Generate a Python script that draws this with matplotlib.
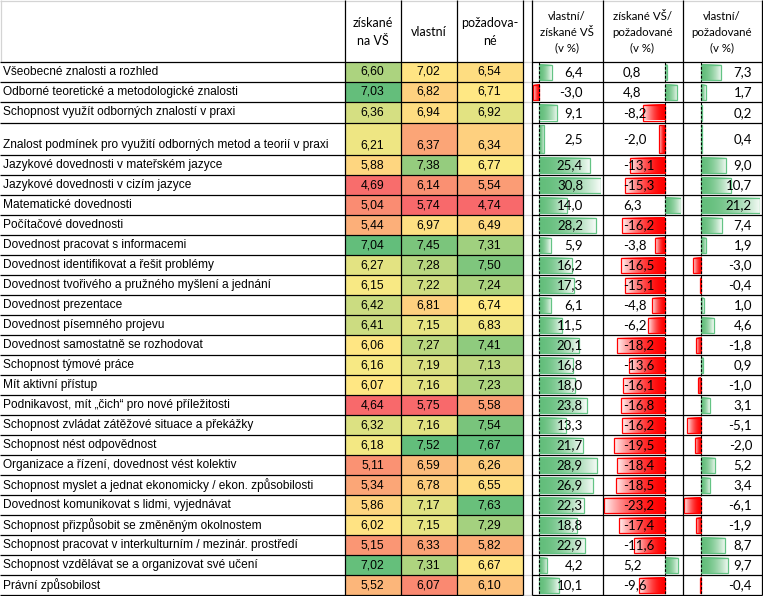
import numpy as np
import matplotlib.pyplot as plt
from matplotlib.colors import LinearSegmentedColormap, TwoSlopeNorm, to_rgb

labels = [
    'Všeobecné znalosti a rozhled',
    'Odborné teoretické a metodologické znalosti',
    'Schopnost využít odborných znalostí v praxi',
    'Znalost podmínek pro využití odborných metod a teorií v praxi',
    'Jazykové dovednosti v mateřském jazyce',
    'Jazykové dovednosti v cizím jazyce',
    'Matematické dovednosti',
    'Počítačové dovednosti',
    'Dovednost pracovat s informacemi',
    'Dovednost identifikovat a řešit problémy',
    'Dovednost tvořivého a pružného myšlení a jednání',
    'Dovednost prezentace',
    'Dovednost písemného projevu',
    'Dovednost samostatně se rozhodovat',
    'Schopnost týmové práce',
    'Mít aktivní přístup',
    'Podnikavost, mít „čich“ pro nové příležitosti',
    'Schopnost zvládat zátěžové situace a překážky',
    'Schopnost nést odpovědnost',
    'Organizace a řízení, dovednost vést kolektiv',
    'Schopnost myslet a jednat ekonomicky / ekon. způsobilosti',
    'Dovednost komunikovat s lidmi, vyjednávat',
    'Schopnost přizpůsobit se změněným okolnostem',
    'Schopnost pracovat v interkulturním / mezinár. prostředí',
    'Schopnost vzdělávat se a organizovat své učení',
    'Právní způsobilost',
]
ziskane = [6.60, 7.03, 6.36, 6.21, 5.88, 4.69, 5.04, 5.44, 7.04, 6.27, 6.15, 6.42, 6.41,
           6.06, 6.16, 6.07, 4.64, 6.32, 6.18, 5.11, 5.34, 5.86, 6.02, 5.15, 7.02, 5.52]
vlastni = [7.02, 6.82, 6.94, 6.37, 7.38, 6.14, 5.74, 6.97, 7.45, 7.28, 7.22, 6.81, 7.15,
           7.27, 7.19, 7.16, 5.75, 7.16, 7.52, 6.59, 6.78, 7.17, 7.15, 6.33, 7.31, 6.07]
pozadovane = [6.54, 6.71, 6.92, 6.34, 6.77, 5.54, 4.74, 6.49, 7.31, 7.50, 7.24, 6.74, 6.83,
              7.41, 7.13, 7.23, 5.58, 7.54, 7.67, 6.26, 6.55, 7.63, 7.29, 5.82, 6.67, 6.10]
vl_zisk = [6.4, -3.0, 9.1, 2.5, 25.4, 30.8, 14.0, 28.2, 5.9, 16.2, 17.3, 6.1, 11.5,
           20.1, 16.8, 18.0, 23.8, 13.3, 21.7, 28.9, 26.9, 22.3, 18.8, 22.9, 4.2, 10.1]
zisk_poz = [0.8, 4.8, -8.2, -2.0, -13.1, -15.3, 6.3, -16.2, -3.8, -16.5, -15.1, -4.8, -6.2,
            -18.2, -13.6, -16.1, -16.8, -16.2, -19.5, -18.4, -18.5, -23.2, -17.4, -11.6, 5.2, -9.6]
vl_poz = [7.3, 1.7, 0.2, 0.4, 9.0, 10.7, 21.2, 7.4, 1.9, -3.0, -0.4, 1.0, 4.6,
          -1.8, 0.9, -1.0, 3.1, -5.1, -2.0, 5.2, 3.4, -6.1, -1.9, 8.7, 9.7, -0.4]

heat_headers = ['získané\nna VŠ', 'vlastní', 'požadova-\nné']
bar_headers = ['vlastní/\nzískané VŠ\n(v %)', 'získané VŠ/\npožadované\n(v %)',
               'vlastní/\npožadované\n(v %)']

W, H = 763, 596
top = 62
row_h = np.array([20, 20, 20.5, 32.5] + [20] * 22)
edges = top + np.concatenate([[0], np.cumsum(row_h)])
centers = (edges[:-1] + edges[1:]) / 2
bottom = edges[-1]

heat_x = [344.5, 400.5, 456.5, 522.5]
bar_x = [531.5, 602.5, 682.5, 761.5]
bar_area = [(533, 601), (604, 681), (684, 760)]
bar_text = [(583, 'right'), (623, 'left'), (752, 'right')]

label_font = dict(family='Liberation Sans', fontsize=8.6)
cell_font = dict(family='Liberation Sans', fontsize=8.8)
num_font = dict(family='Lato', fontsize=9.5)

fig = plt.figure(figsize=(W / 100, H / 100), dpi=100, facecolor='white')
ax = fig.add_axes([0, 0, 1, 1])
ax.set_xlim(0, W)
ax.set_ylim(H, 0)
ax.axis('off')
ax.set_zorder(2)
ax.patch.set_visible(False)

# heat map columns (Excel 3-colour scale, per column, midpoint = median)
cmap = LinearSegmentedColormap.from_list('excel3', ['#F8696B', '#FFEB84', '#63BE7B'])
for i, vals in enumerate([ziskane, vlastni, pozadovane]):
    v = np.array(vals)
    norm = TwoSlopeNorm(vmin=v.min(), vcenter=np.median(v), vmax=v.max())
    ax.pcolormesh(heat_x[i:i + 2], edges, v[:, None], cmap=cmap, norm=norm)
    xc = (heat_x[i] + heat_x[i + 1]) / 2
    for val, yb in zip(v, edges[1:]):
        ax.text(xc, yb - 10, f'{val:.2f}'.replace('.', ','), ha='center', va='center', **cell_font)
    ax.text(xc, 32, heat_headers[i], ha='center', va='center', family='Lato',
            fontsize=9.0, linespacing=1.6)

for lab, yb in zip(labels, edges[1:]):
    ax.text(3, yb - 10, lab, ha='left', va='center', **label_font)

# data bars with Excel-like gradient fill
green, red = np.array(to_rgb('#63BE7B')), np.array(to_rgb('#FF0000'))
t = np.linspace(0, 1, 64)[:, None] ** 1.8
for k, vals in enumerate([vl_zisk, zisk_poz, vl_poz]):
    x0, x1 = bar_area[k]
    bax = fig.add_axes([x0 / W, 0, (x1 - x0) / W, 1])
    bax.set_zorder(1)
    v = np.array(vals)
    bars = bax.barh(centers + 0.25, v, height=row_h - 4.5, color='none', zorder=2, lw=0.9)
    for bar, val in zip(bars, v):
        base = green if val >= 0 else red
        grad = (base * (1 - t) + 0.95 * t + 0.05 * base * t)[None]
        y0 = bar.get_y()
        bax.imshow(grad, extent=[0, val, y0 + bar.get_height(), y0], aspect='auto',
                   interpolation='bilinear', zorder=1)
        bar.set_edgecolor('#63C384' if val >= 0 else '#FF0000')
    bax.plot([0, 0], [top, bottom], color='black', lw=0.8, ls=(0, (2.5, 1.5)), zorder=3)
    bax.set_xlim(min(v.min(), 0), max(v.max(), 0))
    bax.set_ylim(H, 0)
    bax.axis('off')

    tx, ha = bar_text[k]
    for val, yc in zip(v, centers):
        ax.text(tx, yc + 0.5, f'{val:.1f}'.replace('.', ','), ha=ha, va='center', **num_font)
    ax.text((bar_x[k] + bar_x[k + 1]) / 2, 32, bar_headers[k], ha='center', va='center',
            family='Lato', fontsize=8.3, linespacing=1.5)

# grid lines
lw = 0.9
grey = '#D4D4D4'
ax.hlines(0.5, 0, W, color=grey, lw=lw)
ax.vlines(0.5, 0, top, color=grey, lw=lw)
ax.hlines(edges, 522.5, 531.5, color=grey, lw=lw)
ax.hlines(edges, 0, 522.5, color='black', lw=lw)
ax.hlines(edges, 531.5, 761.5, color='black', lw=lw)
ax.vlines(heat_x + bar_x, 0, bottom, color='black', lw=lw)

fig.savefig('out.png', dpi=100)
